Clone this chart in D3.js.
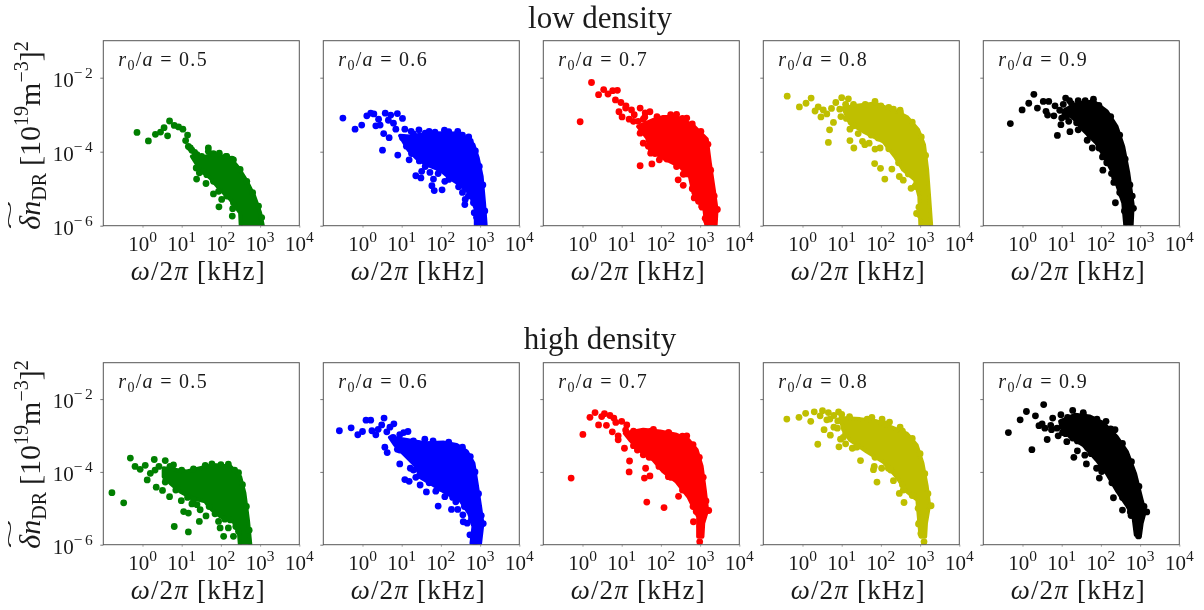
<!DOCTYPE html>
<html>
<head>
<meta charset="utf-8">
<script src="https://cdn.jsdelivr.net/npm/d3@7"></script>
<style>
  html, body { margin: 0; background: #fff; }
  svg { display: block; filter: blur(0.4px); }
  text { font-family: "Liberation Serif", serif; fill: #1a1a1a; }
</style>
</head>
<body>
<div id="chart"></div>
<script>
// The middle of each cloud is solid colour, single points cannot be read there,
// so the *Core arrays trace its outline and the *Dots arrays hold the visible points.
const radii = ["0.5", "0.6", "0.7", "0.8", "0.9"];
const colors = ["#007f00", "#0000ff", "#ff0000", "#bfbf00", "#000000"];
const xTicks = [0, 1, 2, 3, 4];
const yTicks = [-6, -4, -2];

const low5Dots = [[-.14,-3.48],[.15,-3.71],[.33,-3.53],[.46,-3.47],[.55,-3.35],[.64,-3.57],[.69,-3.17],[.81,-3.29],[.92,-3.33],[1.03,-3.39],[1.15,-3.55],[1.10,-3.70],[1.17,-3.86],[1.26,-3.96],[1.39,-4.08],[1.51,-4.13],[1.68,-3.99],[1.81,-4.05],[1.96,-4.04],[2.13,-4.13],[2.28,-4.20],[1.37,-4.44],[1.38,-4.74],[1.45,-4.57],[1.62,-4.86],[1.81,-5.14],[2.02,-5.29],[1.95,-5.49],[2.30,-5.54],[2.29,-5.74],[1.64,-4.62],
  [1.22,-3.90],[1.33,-4.02],[1.56,-4.53],[1.81,-4.80],[1.94,-5.07],[2.15,-5.20],[2.32,-5.38],[1.68,-3.90],[2.15,-4.13],[2.32,-4.22],[2.49,-4.48],[2.66,-4.80],[2.81,-5.11],[2.96,-5.47],[3.04,-5.78]];
const low5Core = [[1.47,-4.17],[1.81,-4.08],[2.24,-4.17],[2.45,-4.44],[2.66,-4.80],[2.85,-5.20],[3.00,-5.65],[3.09,-6.1],[2.51,-6.1],[2.49,-5.65],[2.24,-5.29],[1.98,-5.02],[1.73,-4.71],[1.47,-4.48],[1.26,-4.13]];

const low6Dots = [[-.50,-3.09],[-.19,-3.39],[-.02,-3.28],[.11,-3.03],[.21,-2.96],[.29,-2.98],[.41,-3.12],[.34,-3.30],[.45,-3.28],[.58,-2.96],[.72,-3.01],[.89,-2.97],[1.02,-3.10],[.66,-3.15],[.79,-3.23],[.54,-3.51],[.68,-3.62],[.51,-3.96],[.90,-4.09],[.85,-3.39],[1.08,-3.39],[1.24,-3.45],[1.44,-3.41],[1.19,-4.22],[1.36,-4.65],[1.49,-4.71],[1.51,-4.53],[1.72,-4.56],[1.81,-4.74],[1.77,-4.92],[1.83,-5.05],[2.03,-5.03],[1.93,-4.59],[2.10,-4.80],[2.55,-5.10],[2.62,-5.29],[2.61,-5.43],[2.83,-5.38],[2.91,-5.77],[1.70,-3.45],[2.09,-3.42],[2.43,-3.45],[2.71,-3.60],
  [1.30,-3.52],[1.60,-3.50],[1.85,-3.47],[2.20,-3.46],[2.55,-3.55],[2.75,-3.72],[2.88,-3.98],[2.98,-4.40],[3.07,-4.90],[3.12,-5.60],[1.02,-3.62],[1.12,-3.85],[1.25,-4.05],[1.45,-4.25],[1.60,-4.40],[1.95,-4.45],[2.20,-4.75],[2.45,-4.95],[2.70,-5.20],[2.85,-5.65]];
const low6Core = [[.96,-3.57],[1.21,-3.59],[1.47,-3.54],[1.72,-3.51],[2.06,-3.50],[2.40,-3.51],[2.66,-3.63],[2.83,-3.81],[2.94,-4.17],[3.04,-4.67],[3.10,-5.38],[3.15,-6.1],[2.89,-6.1],[2.89,-5.56],[2.74,-5.12],[2.49,-4.89],[2.23,-4.71],[1.98,-4.49],[1.64,-4.35],[1.38,-4.17],[1.17,-3.95]];

const low7Dots = [[-.06,-3.19],[.23,-2.13],[.41,-2.46],[.54,-2.32],[.65,-2.44],[.77,-2.35],[.89,-2.34],[.84,-2.60],[.98,-2.67],[1.11,-2.76],[.93,-2.92],[1.01,-3.06],[1.25,-2.87],[1.47,-2.82],[1.72,-2.92],[1.19,-3.12],[1.42,-3.18],[1.59,-3.06],[2.40,-2.99],[2.66,-3.09],[1.47,-3.50],[1.55,-3.77],[1.74,-4.04],[1.47,-4.38],[1.77,-4.33],[1.96,-4.22],[2.44,-4.76],[2.57,-4.61],[2.57,-4.91],[2.96,-5.34],[3.04,-5.47],[3.44,-5.56],[3.17,-5.88],
  [1.55,-3.12],[1.60,-2.95],[1.90,-3.05],[2.25,-3.00],[2.55,-3.10],[2.80,-3.25],[3.02,-3.45],[3.20,-3.80],[3.27,-4.50],[3.36,-5.20],[1.62,-3.45],[1.68,-3.85],[1.85,-4.05],[2.15,-4.20],[2.40,-4.40],[2.65,-4.60],[2.80,-5.00],[2.85,-5.25],[3.05,-5.50],[3.13,-5.80],[1.10,-2.82],[1.32,-3.00],[1.30,-3.18]];
const low7Core = [[1.42,-3.32],[1.81,-3.14],[2.06,-3.06],[2.40,-3.06],[2.83,-3.30],[3.17,-3.66],[3.25,-4.31],[3.35,-5.03],[3.42,-5.56],[3.39,-6.1],[3.17,-6.1],[3.11,-5.56],[2.83,-5.12],[2.74,-4.67],[2.49,-4.40],[2.06,-4.17],[1.72,-3.95],[1.65,-3.63]];

const low8Dots = [[-.39,-2.50],[-.08,-2.79],[.09,-2.69],[.22,-2.55],[.32,-2.90],[.40,-2.79],[.53,-2.87],[.47,-3.06],[.62,-2.98],[.74,-2.83],[.79,-3.21],[.69,-3.41],[.66,-3.75],[.85,-2.67],[1.00,-2.54],[1.17,-2.57],[1.21,-3.39],[1.21,-3.70],[1.31,-3.90],[1.42,-3.51],[1.53,-3.72],[1.59,-3.81],[1.70,-3.77],[1.85,-3.93],[1.98,-3.90],[1.93,-3.63],[1.84,-4.32],[1.99,-4.45],[2.28,-4.47],[2.10,-4.74],[2.47,-4.67],[2.57,-4.77],[2.77,-4.99],[2.87,-4.94],[2.91,-5.67],[3.00,-5.72],[1.85,-2.64],[2.32,-2.85],[2.49,-2.88],
  [1.30,-2.72],[1.60,-2.72],[2.00,-2.76],[2.20,-2.80],[2.50,-2.95],[2.80,-3.20],[3.03,-3.60],[3.14,-4.10],[1.12,-3.10],[1.30,-3.30],[1.75,-3.55],[2.20,-3.92],[2.45,-4.30],[2.70,-4.60],[2.90,-4.90],[2.97,-5.50],[.95,-2.85],[.98,-3.05],[1.10,-2.72]];
const low8Core = [[1.04,-2.82],[1.38,-2.76],[1.85,-2.70],[2.32,-2.88],[2.66,-3.06],[2.95,-3.41],[3.10,-3.81],[3.18,-4.49],[3.23,-5.21],[3.29,-6.1],[3.01,-6.1],[2.98,-5.21],[2.87,-4.76],[2.57,-4.49],[2.36,-4.13],[2.06,-3.72],[1.55,-3.45],[1.21,-3.23]];

const low9Dots = [[-.31,-3.24],[-.01,-2.87],[.16,-2.69],[.29,-2.45],[.38,-2.82],[.53,-2.64],[.67,-2.64],[.60,-2.91],[.64,-3.01],[.83,-2.76],[.80,-3.03],[1.00,-3.09],[.98,-3.27],[.89,-3.56],[1.21,-3.46],[1.10,-2.55],[1.04,-2.72],[1.25,-2.70],[1.12,-3.05],[1.42,-3.41],[1.65,-3.69],[1.78,-3.90],[2.04,-4.14],[2.05,-4.50],[2.16,-4.26],[2.27,-4.59],[2.33,-4.83],[2.37,-5.38],[2.53,-5.16],[2.83,-5.53],[2.70,-5.88],[1.81,-2.58],[1.42,-2.62],
  [1.20,-2.62],[1.60,-2.62],[1.95,-2.75],[2.25,-3.05],[2.48,-3.55],[2.62,-4.20],[2.74,-4.90],[2.80,-5.20],[1.25,-3.00],[1.50,-3.30],[1.72,-3.55],[1.95,-3.90],[2.15,-4.30],[2.35,-4.70],[2.48,-5.10],[2.60,-5.60],[.95,-2.88],[1.08,-2.98],[1.18,-3.18],[1.38,-3.22]];
const low9Core = [[1.08,-2.87],[1.42,-2.69],[1.81,-2.64],[2.15,-2.91],[2.40,-3.32],[2.57,-3.86],[2.70,-4.58],[2.81,-5.43],[2.78,-6.1],[2.63,-6.1],[2.57,-5.38],[2.40,-4.85],[2.27,-4.49],[2.06,-4.08],[1.89,-3.77],[1.55,-3.41],[1.34,-3.14]];

const high5Dots = [[-.78,-4.57],[-.48,-4.85],[-.31,-3.62],[-.19,-3.85],[-.06,-3.93],[.07,-3.82],[.30,-3.66],[.58,-3.69],[.12,-4.22],[.20,-4.04],[.35,-4.42],[.51,-4.51],[.58,-4.28],[.69,-4.68],[.88,-4.45],[.99,-4.79],[1.05,-5.09],[1.17,-5.13],[.81,-5.50],[1.17,-5.65],[1.26,-4.88],[1.45,-5.36],[1.62,-5.21],[1.47,-5.04],[1.39,-4.90],[1.94,-5.36],[1.98,-5.54],[2.24,-5.32],[2.07,-5.77],[2.32,-5.77],[2.45,-5.63],[2.19,-5.54],[1.77,-3.78],[2.19,-3.79],[2.45,-4.02],[.79,-3.81],
  [.70,-3.85],[1.00,-3.95],[1.30,-3.92],[1.60,-3.82],[2.00,-3.80],[2.35,-3.95],[2.55,-4.35],[2.65,-4.95],[2.72,-5.60],[.60,-4.20],[.85,-4.50],[1.15,-4.70],[1.30,-4.77],[1.70,-4.95],[1.85,-5.15],[2.10,-5.30],[2.38,-5.50],[.32,-3.95],[.42,-3.85]];
const high5Core = [[.54,-3.90],[1.13,-3.99],[1.47,-3.90],[1.81,-3.81],[2.24,-3.85],[2.49,-4.13],[2.60,-4.58],[2.69,-5.32],[2.76,-6.1],[2.49,-6.1],[2.46,-5.68],[2.32,-5.36],[1.98,-5.22],[1.77,-5.04],[1.60,-4.81],[1.26,-4.72],[.96,-4.54],[.71,-4.31],[.54,-4.13]];

const high6Dots = [[-.59,-2.87],[-.29,-2.79],[-.12,-2.98],[0,-2.89],[.09,-2.58],[.21,-2.58],[.55,-2.52],[.24,-2.87],[.34,-2.98],[.40,-2.83],[.49,-2.71],[.70,-2.77],[.80,-2.68],[.57,-3.32],[.63,-3.47],[.78,-3.05],[.89,-3.38],[1.16,-2.89],[.95,-3.78],[1.22,-3.90],[1.08,-4.21],[1.19,-4.26],[1.36,-4.15],[1.47,-4.36],[1.63,-4.55],[1.87,-4.53],[1.93,-4.94],[2.10,-4.68],[2.27,-5.03],[2.43,-5.03],[2.38,-4.82],[2.56,-5.18],[2.57,-5.37],[2.67,-5.41],[3.08,-5.42],[2.74,-5.73],[2.87,-5.92],[1.59,-3.10],[1.29,-3.62],[1.21,-3.39],[.96,-3.21],[1.08,-3.43],
  [1.30,-3.15],[1.40,-3.22],[1.80,-3.15],[2.20,-3.18],[2.55,-3.32],[2.75,-3.58],[2.87,-4.00],[2.96,-4.60],[3.03,-5.20],[.95,-3.40],[1.30,-3.95],[1.45,-4.10],[1.70,-4.30],[2.00,-4.45],[2.30,-4.70],[2.60,-4.95],[2.78,-5.30],[.62,-2.90],[.95,-2.98],[1.05,-2.92]];
const high6Core = [[.70,-3.05],[1.13,-3.12],[1.59,-3.21],[2.06,-3.19],[2.40,-3.26],[2.66,-3.44],[2.83,-3.76],[2.91,-4.31],[3.00,-4.95],[3.06,-5.41],[3.00,-5.96],[2.78,-5.96],[2.83,-5.50],[2.72,-5.14],[2.49,-4.77],[2.15,-4.59],[1.81,-4.36],[1.51,-4.17],[1.34,-3.81],[1.04,-3.49],[.83,-3.26]];

const high7Dots = [[-.29,-4.17],[.01,-2.97],[.19,-2.50],[.32,-2.37],[.41,-2.71],[.49,-2.48],[.56,-2.40],[.61,-2.72],[.70,-2.45],[.80,-2.52],[.85,-2.64],[.76,-2.90],[1.00,-2.61],[.91,-3.01],[.91,-3.12],[1.07,-3.35],[1.13,-2.71],[1.30,-3.28],[1.20,-3.70],[1.19,-4.00],[1.61,-3.90],[1.58,-4.17],[1.72,-4.11],[1.64,-4.83],[2.08,-4.98],[2.45,-4.67],[1.55,-3.53],[1.81,-2.83],[2.19,-2.92],[2.66,-3.01],[2.19,-4.13],[2.83,-5.37],[3.22,-5.06],[3.01,-5.71],[2.99,-5.92],[2.90,-5.09],
  [1.30,-2.88],[1.75,-2.88],[2.20,-2.92],[2.55,-3.02],[2.82,-3.25],[2.98,-3.60],[3.08,-4.15],[3.15,-4.80],[1.40,-3.40],[1.70,-3.60],[1.95,-3.85],[2.25,-4.15],[2.55,-4.50],[2.82,-4.95],[3.00,-5.50],[1.10,-2.85],[1.22,-2.98]];
const high7Core = [[1.08,-2.94],[1.55,-2.84],[1.98,-2.89],[2.40,-2.98],[2.70,-3.12],[2.91,-3.39],[3.04,-3.85],[3.12,-4.50],[3.18,-5.05],[3.08,-5.41],[3.06,-5.78],[2.95,-5.78],[2.95,-5.23],[2.70,-4.68],[2.40,-4.27],[2.06,-3.99],[1.81,-3.67],[1.55,-3.49],[1.21,-3.12]];

const high8Dots = [[-.40,-2.55],[-.09,-2.50],[.08,-2.39],[.30,-2.35],[.21,-2.61],[.45,-2.46],[.51,-2.32],[.66,-2.37],[.55,-2.84],[.62,-2.57],[.70,-2.55],[.39,-3.24],[.71,-2.99],[.80,-2.77],[.89,-2.80],[.92,-2.35],[.97,-3.10],[.93,-3.31],[1.10,-3.23],[1.04,-3.05],[1.27,-3.35],[1.38,-3.32],[1.48,-3.69],[1.83,-3.85],[1.81,-3.94],[2.02,-3.90],[2.19,-3.90],[1.90,-4.28],[2.32,-4.24],[2.47,-4.59],[2.59,-4.84],[2.57,-4.50],[2.83,-4.61],[3.28,-4.93],[2.96,-5.43],[3.02,-5.69],[3.10,-5.92],[1.77,-2.50],[2.03,-2.55],[2.22,-2.63],[2.49,-2.77],
  [1.20,-2.48],[1.65,-2.55],[2.10,-2.68],[2.55,-2.88],[2.80,-3.08],[3.00,-3.50],[3.12,-4.05],[3.20,-4.60],[1.40,-3.30],[1.85,-3.60],[2.25,-3.95],[2.55,-4.35],[2.80,-4.65],[2.95,-5.00],[2.98,-5.40],[.80,-2.45],[1.00,-2.42],[.90,-2.60],[1.10,-2.95]];
const high8Core = [[.97,-2.52],[1.47,-2.55],[1.89,-2.61],[2.32,-2.80],[2.66,-2.95],[2.91,-3.26],[3.06,-3.76],[3.17,-4.40],[3.23,-4.91],[3.15,-5.41],[3.13,-5.78],[3.01,-5.78],[2.93,-4.77],[2.66,-4.54],[2.40,-4.13],[2.06,-3.72],[1.64,-3.44],[1.21,-3.12],[1.04,-2.84]];

const high9Dots = [[-.36,-2.92],[-.06,-2.57],[.10,-2.34],[.33,-2.46],[.54,-2.15],[.24,-3.39],[.42,-2.73],[.50,-2.68],[.63,-3.11],[.57,-2.80],[.74,-2.84],[.77,-2.52],[.91,-3.01],[.98,-2.43],[1.13,-3.17],[1.28,-2.31],[1.28,-3.07],[1.31,-3.60],[1.40,-3.42],[1.59,-3.54],[1.63,-3.78],[1.66,-3.33],[1.89,-3.90],[2.02,-3.99],[1.96,-4.17],[2.30,-4.24],[2.32,-4.71],[2.55,-5.05],[2.77,-5.20],[3.17,-5.10],[2.96,-5.76],[1.55,-2.37],[2.13,-2.61],[2.36,-2.84],
  [1.15,-2.50],[1.55,-2.42],[1.90,-2.55],[2.25,-2.82],[2.55,-3.22],[2.78,-3.72],[2.97,-4.40],[3.10,-4.95],[1.10,-2.95],[1.40,-3.15],[1.75,-3.50],[2.00,-3.85],[2.28,-4.30],[2.55,-4.70],[2.75,-5.10],[2.92,-5.50],[.72,-2.72],[.88,-2.80],[1.02,-2.92]];
const high9Core = [[.96,-2.61],[1.34,-2.43],[1.72,-2.48],[2.06,-2.66],[2.40,-3.03],[2.66,-3.44],[2.87,-4.04],[3.04,-4.77],[3.12,-5.09],[3.04,-5.41],[3.00,-5.73],[2.89,-5.73],[2.83,-5.23],[2.66,-4.91],[2.40,-4.50],[2.15,-4.04],[1.89,-3.67],[1.55,-3.26],[1.21,-3.03],[1.00,-2.80]];

const rows = [
  { title: "low density", titleY: 28, top: 40.7, bottom: 225.7, dots: [low5Dots, low6Dots, low7Dots, low8Dots, low9Dots], core: [low5Core, low6Core, low7Core, low8Core, low9Core] },
  { title: "high density", titleY: 349, top: 362.7, bottom: 544.7, dots: [high5Dots, high6Dots, high7Dots, high8Dots, high9Dots], core: [high5Core, high6Core, high7Core, high8Core, high9Core] },
];

const panelLefts = [103.3, 323.3, 543.3, 763.3, 983.3];
const panelWidth = 196;

const svg = d3.select("#chart").append("svg").attr("width", 1204).attr("height", 610);

function power(base, exponent, label, spacing) {
  // writes a "10^n" style label into a text selection
  label.append("tspan").text(base);
  label.append("tspan")
    .attr("font-size", 15.5)
    .attr("dy", -9)
    .attr("letter-spacing", spacing)
    .text(exponent);
}

rows.forEach((row, r) => {
  svg.append("text")
    .attr("x", 600).attr("y", row.titleY)
    .attr("text-anchor", "middle").attr("font-size", 31)
    .text(row.title);

  panelLefts.forEach((left, i) => {
    const x = d3.scaleLog().domain([0.1, 10000]).range([left, left + panelWidth]);
    const y = d3.scaleLog().domain([1e-6, 0.1]).range([row.bottom, row.top]);
    const px = (d) => x(Math.pow(10, d[0]));
    const py = (d) => y(Math.pow(10, d[1]));
    const clipId = `clip-${r}-${i}`;

    svg.append("clipPath").attr("id", clipId)
      .append("rect")
      .attr("x", left).attr("y", row.top)
      .attr("width", panelWidth).attr("height", row.bottom - row.top);

    const g = svg.append("g").attr("clip-path", `url(#${clipId})`);

    g.append("path")
      .attr("d", d3.line().x(px).y(py).curve(d3.curveLinearClosed)(row.core[i]))
      .attr("fill", colors[i])
      .attr("stroke", colors[i])
      .attr("stroke-width", 4)
      .attr("stroke-linejoin", "round");

    g.selectAll("circle")
      .data(row.dots[i])
      .join("circle")
      .attr("cx", px)
      .attr("cy", py)
      .attr("r", 3.4)
      .attr("fill", colors[i]);

    svg.append("rect")
      .attr("x", left).attr("y", row.top)
      .attr("width", panelWidth).attr("height", row.bottom - row.top)
      .attr("fill", "none").attr("stroke", "#555").attr("stroke-width", 1);

    const xAxis = svg.append("g")
      .attr("transform", `translate(0,${row.bottom})`)
      .call(d3.axisBottom(x).tickValues(xTicks.map((d) => Math.pow(10, d))).tickSize(2).tickFormat(""));
    xAxis.select(".domain").remove();
    xAxis.selectAll(".tick line").attr("stroke", "#777").attr("stroke-width", 0.7);

    const yAxis = svg.append("g")
      .attr("transform", `translate(${left},0)`)
      .call(d3.axisLeft(y).tickValues(yTicks.map((d) => Math.pow(10, d))).tickSize(3).tickFormat(""));
    yAxis.select(".domain").remove();
    yAxis.selectAll(".tick line").attr("stroke", "#555").attr("stroke-width", 0.8);

    xTicks.forEach((t) => {
      const label = svg.append("text")
        .attr("x", x(Math.pow(10, t))).attr("y", row.bottom + 25)
        .attr("text-anchor", "middle").attr("font-size", 21);
      power("10", String(t), label, 0);
    });

    if (i === 0) {
      yTicks.forEach((t) => {
        const label = svg.append("text")
          .attr("x", left - 8).attr("y", y(Math.pow(10, t)) + 9)
          .attr("text-anchor", "end").attr("font-size", 21);
        power("10", `\u2212${-t}`, label, 2.5);
      });
    }

    const note = svg.append("text")
      .attr("x", left + 15).attr("y", row.top + 25)
      .attr("font-size", 20).attr("letter-spacing", 1.3);
    note.append("tspan").attr("font-style", "italic").text("r");
    note.append("tspan").attr("font-size", 14).attr("dy", 4).text("0");
    note.append("tspan").attr("dy", -4).text("/");
    note.append("tspan").attr("font-style", "italic").text("a");
    note.append("tspan").text(` = ${radii[i]}`);

    const xLabel = svg.append("text")
      .attr("x", left + panelWidth / 2 - 3).attr("y", row.bottom + 54)
      .attr("text-anchor", "middle").attr("font-size", 27).attr("letter-spacing", 1.2);
    xLabel.append("tspan").attr("font-style", "italic").text("\u03c9");
    xLabel.append("tspan").text("/2");
    xLabel.append("tspan").attr("font-style", "italic").text("\u03c0");
    xLabel.append("tspan").text(" [kHz]");
  });

  const yLabel = svg.append("g")
    .attr("transform", `translate(40,${row.bottom + 4}) rotate(-90)`);
  const t = yLabel.append("text").attr("font-size", 30);
  t.append("tspan").attr("font-style", "italic").text("\u03b4n");
  t.append("tspan").attr("font-size", 20).attr("dy", 6).text("DR");
  t.append("tspan").attr("dy", -6).attr("dx", 7).text("[10");
  t.append("tspan").attr("font-size", 20).attr("dy", -12).text("19");
  t.append("tspan").attr("dy", 12).text("m");
  t.append("tspan").attr("font-size", 20).attr("dy", -12).text("\u22123");
  t.append("tspan").attr("dy", 12).text("]");
  t.append("tspan").attr("font-size", 20).attr("dy", -12).text("2");

  yLabel.append("text")
    .attr("transform", "translate(0,-24) scale(3.6,1.3)")
    .attr("font-size", 15)
    .text("~");
});
</script>
</body>
</html>
